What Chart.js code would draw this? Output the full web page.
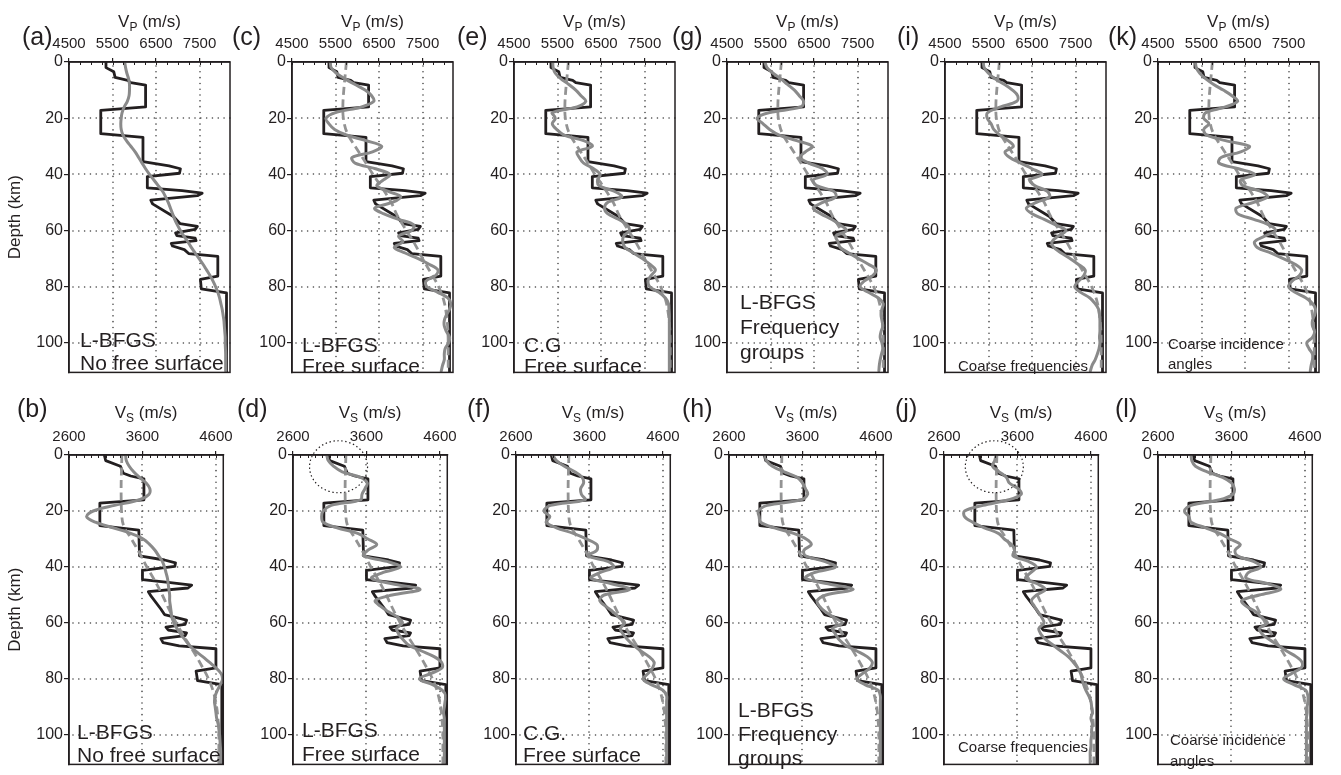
<!DOCTYPE html>
<html><head><meta charset="utf-8">
<script src="https://cdn.jsdelivr.net/npm/chart.js@4.4.1/dist/chart.umd.min.js"></script>
<style>
html,body{margin:0;padding:0;background:#fff;width:1341px;height:775px;overflow:hidden;position:relative}
canvas{position:absolute}
</style></head><body>
<script>
// ---------------- DATA ----------------
const depthGrid = [0,2,4,6,8,10,12,14,16,18,20,22,24,26,28,30,32,34,36,38,40,42,44,46,48,50,52,54,56,58,60,62,64,66,68,70,72,74,76,78,80,82,84,86,88,90,92,94,96,98,100,102,104,106,108,110];

const trueVpDepth = [0,2,3.5,5.5,6.5,7.3,8.2,16,17.2,25.5,26.8,35.5,37,38,39.6,40.8,44.8,45.8,46.7,47.6,49.2,50.5,55,57.5,58.5,59.6,60.8,61.8,62.7,63.6,64.6,65.5,66.8,68.2,69.2,76.2,77.4,80.8,82.2,110.5];
const trueVp      = [5350,5350,5530,5560,5850,5920,6260,6260,5230,5230,6200,6200,6800,7060,7040,6300,6300,7100,7560,7450,6380,6420,6900,7050,7450,7400,6950,6980,7400,7420,6850,6880,7150,7250,7920,7920,7520,7540,8120,8120];

const trueVsDepth = [0,2,4,6.5,7.5,8.5,16,17.2,25.2,26.8,36,37.5,38.5,39.8,41.2,44.5,45.5,46.5,47.5,48.8,50.5,55,57,58,59,60.5,61.5,62.5,63.5,64.5,65.6,67,68.2,69.2,76,77.2,80.6,82,110.5];
const trueVs      = [3080,3100,3300,3340,3440,3620,3620,3020,3020,3550,3560,3900,4050,4040,3600,3600,3950,4270,4220,3680,3720,3850,3900,4050,4200,4180,3920,3950,4200,4180,3850,3880,4100,4600,4600,4330,4350,4680,4680];

const initDepth = [0,5,10,15,20,25,30,35,40,45,50,55,60,65,70,75,80,85,90,95,100,105,110.5];
const initVp    = [5750,5720,5690,5670,5680,5760,5950,6160,6360,6580,6780,6930,7130,7330,7500,7690,7870,7990,8050,8080,8090,8090,8090];
const initVs    = [3320,3315,3310,3310,3315,3340,3450,3560,3660,3770,3870,3960,4060,4170,4290,4400,4500,4570,4610,4630,4640,4640,4640];

const vpLbfgsNoFree = [5780,5800,5830,5870,5890,5890,5880,5840,5770,5720,5700,5690,5700,5740,5820,5920,6020,6100,6180,6260,6350,6450,6550,6650,6720,6780,6830,6880,6930,6990,7060,7140,7230,7310,7400,7490,7580,7660,7740,7810,7870,7920,7960,7990,8020,8040,8060,8070,8080,8090,8090,8095,8100,8100,8100,8100];
const vsLbfgsNoFree = [3370,3380,3420,3480,3560,3650,3700,3690,3560,3220,2930,2840,2960,3200,3440,3610,3700,3770,3820,3870,3900,3920,3940,3950,3960,3970,3970,3980,3990,4000,4030,4070,4120,4180,4240,4320,4420,4510,4600,4670,4690,4660,4620,4590,4580,4590,4600,4610,4630,4640,4650,4655,4660,4665,4665,4665];
const vpLbfgsFree = [5380,5400,5520,5720,5950,6180,6330,6380,6100,5500,5280,5350,5480,5750,6200,6560,6350,5880,5950,6420,6750,6600,6450,6700,7000,6800,6400,6600,6950,7300,7250,6950,7050,6850,7100,7400,7650,7850,7800,7580,7600,7850,8080,8150,8120,8050,8000,8000,8050,8120,8100,8020,8000,8000,7960,7930];
const vsLbfgsFree = [3060,3080,3150,3270,3520,3610,3580,3540,3520,3120,3010,2990,3010,3200,3480,3620,3740,3620,3560,3880,4060,3820,3670,3950,4330,3950,3720,3790,3900,4030,4090,4010,4040,4100,4180,4350,4520,4620,4630,4480,4320,4500,4630,4680,4670,4660,4650,4660,4660,4660,4660,4660,4660,4660,4660,4660];
const vpCgFree = [5390,5400,5450,5580,5760,5920,6040,6150,5950,5380,5450,5380,5480,5650,6100,6300,5950,6000,6100,6330,6480,6420,6450,6800,6980,6650,6580,6650,6900,7100,7150,7020,7000,7050,7250,7450,7620,7750,7650,7580,7620,7830,7980,8050,8060,8070,8070,8070,8070,8070,8070,8070,8070,8070,8070,8070];
const vsCgFree = [3100,3150,3260,3400,3500,3520,3480,3490,3540,3070,2980,3060,3010,3150,3380,3560,3700,3700,3580,3850,3930,3740,3620,3900,4150,3800,3740,3820,3920,4000,4080,4020,4060,4120,4200,4300,4410,4480,4460,4400,4330,4440,4600,4650,4650,4650,4650,4650,4650,4650,4650,4650,4650,4650,4650,4650];
const vpFreqGroups = [5370,5420,5560,5740,5890,6050,6160,6260,6200,5480,5190,5330,5480,5700,6100,6460,6300,6180,6380,6700,6800,6480,6560,6950,7000,6700,6480,6650,6900,7100,7250,7000,7050,7100,7300,7520,7750,7930,7850,7650,7560,7750,7980,8090,8060,8040,8060,8080,8040,8020,8060,8080,8050,8020,8000,7990];
const vsFreqGroups = [3090,3110,3190,3350,3530,3600,3640,3670,3580,3120,3000,3010,3030,3220,3480,3650,3720,3620,3640,3900,4050,3760,3640,3950,4290,3920,3800,3830,3910,4030,4140,4010,4050,4100,4190,4340,4480,4550,4520,4420,4340,4450,4630,4660,4660,4660,4660,4660,4660,4660,4660,4660,4660,4660,4660,4660];
const vpCoarseFreq = [5380,5400,5500,5650,5870,6050,6170,6150,5780,5480,5470,5560,5620,5760,5950,6070,5880,5990,6240,6500,6730,6450,6560,6850,6900,6600,6370,6500,6780,7040,7280,7100,6960,7000,7170,7380,7560,7720,7690,7570,7480,7620,7830,7950,8030,8050,8060,8060,8060,8050,8060,8040,8000,7950,7880,7840];
const vsCoarseFreq = [3310,3290,3260,3350,3450,3490,3610,3650,3480,3130,2880,2880,2990,3150,3340,3420,3520,3560,3540,3750,3860,3780,3710,3870,3980,3860,3790,3830,3880,3930,3960,3890,3920,3990,4090,4190,4290,4360,4420,4460,4480,4500,4530,4570,4600,4610,4620,4600,4620,4610,4610,4600,4600,4590,4590,4590];
const vpCoarseAngles = [5360,5380,5460,5600,5780,6000,6200,6330,6050,5600,5550,5670,5550,5620,6050,6600,6400,5950,5900,6350,6730,6400,6450,6850,7020,6700,6300,6330,6700,7050,7200,6950,6720,6780,7100,7380,7650,7800,7750,7580,7500,7650,7900,8050,8120,8100,8050,8050,8100,8050,7920,7970,8050,8050,8020,8000];
const vsCoarseAngles = [3050,3060,3110,3270,3480,3600,3640,3620,3440,3050,2960,3020,3050,3250,3440,3580,3720,3650,3680,3900,4000,3830,3800,4100,4270,3980,3740,3800,3930,4010,4090,3980,4020,4120,4240,4350,4480,4560,4550,4420,4310,4450,4610,4640,4640,4630,4630,4620,4620,4620,4620,4620,4620,4620,4620,4620];

const vpTicks = [4500,5500,6500,7500];
const vsTicks = [2600,3600,4600];
const depthTicks = [0,20,40,60,80,100];

// ---------------- LAYOUT / STYLE ----------------
const FONT = '"Liberation Sans", Arial, Helvetica, sans-serif';
const INK = '#231f20';
const GRAY = '#8a8a8a';
const AXIS_W = 69, PLOT_W = 161, RIGHT_PAD = 8, BOTTOM_PAD = 3;
const ROW_TOP = [0, 385];
const PLOT_TOP = [62, 455];
const PLOT_H = [318, 317];
const PLOT_LEFT = [[69,292,514,727,945,1158],[69,293,516,729,944,1158]];
const DEPTH_MAX = 110.5;
const RANGE = {P:[4500,8200], S:[2600,4700]};

const panels = [
  {tag:'(a)', row:0, col:0, q:'P', inv:vpLbfgsNoFree, init:false, lx:22,  text:['L-BFGS','No free surface'], fs:21, lh:23, tx:80,  ty:364},
  {tag:'(c)', row:0, col:1, q:'P', inv:vpLbfgsFree,   init:true,  lx:232, text:['L-BFGS','Free surface'], fs:21, lh:21, tx:302, ty:367},
  {tag:'(e)', row:0, col:2, q:'P', inv:vpCgFree,      init:true,  lx:457, text:['C.G','Free surface'], fs:21, lh:21, tx:524, ty:367},
  {tag:'(g)', row:0, col:3, q:'P', inv:vpFreqGroups,  init:true,  lx:672, text:['L-BFGS','Frequency','groups'], fs:21, lh:25, tx:740, ty:353},
  {tag:'(i)', row:0, col:4, q:'P', inv:vpCoarseFreq,  init:true,  lx:897, text:['Coarse frequencies'], fs:15, lh:20, tx:958, ty:367},
  {tag:'(k)', row:0, col:5, q:'P', inv:vpCoarseAngles,init:true,  lx:1108,text:['Coarse incidence','angles'], fs:15, lh:20, tx:1168, ty:365},
  {tag:'(b)', row:1, col:0, q:'S', inv:vsLbfgsNoFree, init:true,  lx:17,  text:['L-BFGS','No free surface'], fs:21, lh:23, tx:77,  ty:756},
  {tag:'(d)', row:1, col:1, q:'S', inv:vsLbfgsFree,   init:true,  lx:237, text:['L-BFGS','Free surface'], fs:21, lh:24, tx:302, ty:755, circle:{x:3220, y:4.2, rx:29, ry:26}},
  {tag:'(f)', row:1, col:2, q:'S', inv:vsCgFree,      init:true,  lx:467, text:['C.G.','Free surface'], fs:21, lh:22, tx:523, ty:756},
  {tag:'(h)', row:1, col:3, q:'S', inv:vsFreqGroups,  init:true,  lx:682, text:['L-BFGS','Frequency','groups'], fs:21, lh:24, tx:738, ty:759},
  {tag:'(j)', row:1, col:4, q:'S', inv:vsCoarseFreq,  init:true,  lx:895, text:['Coarse frequencies'], fs:15, lh:20, tx:958, ty:748, circle:{x:3285, y:4.2, rx:29, ry:26}},
  {tag:'(l)', row:1, col:5, q:'S', inv:vsCoarseAngles,init:true,  lx:1115,text:['Coarse incidence','angles'], fs:15, lh:21, tx:1170, ty:762},
];

const decor = {
  id: 'decor',
  beforeDatasetsDraw(chart, args, o) {
    const {ctx, chartArea: a, scales: {x, y}} = chart;
    ctx.save();
    ctx.strokeStyle = '#444';
    ctx.lineWidth = 1.6;
    ctx.lineCap = 'round';
    ctx.setLineDash([0.01, 5.8]);
    o.xGrid.forEach(v => {
      const px = Math.round(x.getPixelForValue(v));
      ctx.beginPath(); ctx.moveTo(px, a.top + 4); ctx.lineTo(px, a.bottom); ctx.stroke();
    });
    o.yGrid.forEach(v => {
      const py = Math.round(y.getPixelForValue(v));
      ctx.beginPath(); ctx.moveTo(a.left + 4, py); ctx.lineTo(a.right, py); ctx.stroke();
    });
    ctx.restore();
  },
  afterDatasetsDraw(chart, args, o) {
    const {ctx, chartArea: a, scales: {x, y}} = chart;
    ctx.save();
    ctx.strokeStyle = INK; ctx.lineWidth = 1;
    for (let v = o.minorStart; v < o.xMax; v += o.minorStep) {
      const px = Math.round(x.getPixelForValue(v)) + 0.5;
      ctx.beginPath(); ctx.moveTo(px, a.top); ctx.lineTo(px, a.top + 3); ctx.stroke();
    }
    ctx.lineWidth = 1.5; ctx.strokeStyle = INK;
    ctx.strokeRect(a.left, a.top, a.width, a.height);
    if (o.circle) {
      ctx.setLineDash([1.4, 2.6]); ctx.lineWidth = 1.2;
      ctx.beginPath();
      ctx.ellipse(x.getPixelForValue(o.circle.x), y.getPixelForValue(o.circle.y), o.circle.rx, o.circle.ry, 0, 0, Math.PI*2);
      ctx.stroke(); ctx.setLineDash([]);
    }
    ctx.fillStyle = INK; ctx.font = o.fs + 'px ' + FONT;
    ctx.textAlign = 'left'; ctx.textBaseline = 'middle';
    const n = o.text.length;
    o.text.forEach((t, i) => ctx.fillText(t, o.tx, o.ty - (n - 1 - i) * o.lh));
    ctx.restore();
  },
  afterDraw(chart, args, o) {
    const {ctx, chartArea: a} = chart;
    ctx.save();
    ctx.fillStyle = INK; ctx.textBaseline = 'alphabetic'; ctx.textAlign = 'left';
    const big = '17px ' + FONT, small = '12px ' + FONT;
    ctx.font = big; const w1 = ctx.measureText('V').width; const w3 = ctx.measureText(' (m/s)').width;
    ctx.font = small; const w2 = ctx.measureText(o.sub).width;
    let x0 = (a.left + a.right) / 2 - (w1 + w2 + w3) / 2;
    const by = a.top - o.titleGap;
    ctx.font = big; ctx.fillText('V', x0, by);
    ctx.font = small; ctx.fillText(o.sub, x0 + w1, by + 4);
    ctx.font = big; ctx.fillText(' (m/s)', x0 + w1 + w2, by);
    ctx.font = '25px ' + FONT;
    ctx.fillText(o.tag, o.lx, o.ly);
    if (o.depthLabel) {
      ctx.translate(15, (a.top + a.bottom) / 2);
      ctx.rotate(-Math.PI / 2);
      ctx.textAlign = 'center'; ctx.textBaseline = 'middle';
      ctx.font = '17px ' + FONT;
      ctx.fillText('Depth (km)', 0, 0);
    }
    ctx.restore();
  }
};

function pts(vals, depths) { return vals.map((v, i) => ({x: v, y: depths[i]})); }

panels.forEach(p => {
  const left = PLOT_LEFT[p.row][p.col];
  const top = PLOT_TOP[p.row];
  const cvLeft = left - AXIS_W, cvTop = ROW_TOP[p.row];
  const W = AXIS_W + PLOT_W + RIGHT_PAD;
  const H = (top - cvTop) + PLOT_H[p.row] + BOTTOM_PAD;
  const cv = document.createElement('canvas');
  cv.width = W; cv.height = H;
  cv.style.left = cvLeft + 'px'; cv.style.top = cvTop + 'px';
  cv.style.width = W + 'px'; cv.style.height = H + 'px';
  document.body.appendChild(cv);

  const isP = p.q === 'P';
  const trueVals = isP ? trueVp : trueVs, trueDep = isP ? trueVpDepth : trueVsDepth;
  const initVals = isP ? initVp : initVs;
  const [xmin, xmax] = RANGE[p.q];
  const xt = isP ? vpTicks : vsTicks;

  const datasets = [
    {data: pts(p.inv, depthGrid), borderColor: GRAY, borderWidth: 3, tension: 0.35, pointRadius: 0, showLine: true, borderJoinStyle: 'round', borderCapStyle: 'round'},
  ];
  if (p.init) datasets.push({data: pts(initVals, initDepth), borderColor: '#939393', borderWidth: 2.8, borderDash: [8, 4.5], tension: 0.35, pointRadius: 0, showLine: true});
  datasets.push({data: pts(trueVals, trueDep), borderColor: INK, borderWidth: 2.8, tension: 0, pointRadius: 0, showLine: true, borderJoinStyle: 'round'});

  new Chart(cv, {
    type: 'scatter',
    data: {datasets},
    options: {
      responsive: false, animation: false, devicePixelRatio: 1, events: [],
      layout: {padding: {left: 0, top: 0, right: RIGHT_PAD, bottom: BOTTOM_PAD}},
      plugins: {
        legend: {display: false}, tooltip: {enabled: false},
        decor: {
          xGrid: xt.slice(1), yGrid: depthTicks.slice(1),
          minorStart: xmin, minorStep: isP ? 250 : 100, xMax: xmax,
          circle: p.circle || null,
          text: p.text, fs: p.fs, lh: p.lh, tx: p.tx - cvLeft, ty: p.ty - cvTop,
          sub: p.q, tag: p.tag, lx: p.lx - cvLeft, ly: p.row === 0 ? 45 : 417 - cvTop,
          titleGap: p.row === 0 ? 35 : 37,
          depthLabel: p.col === 0
        }
      },
      scales: {
        x: {
          type: 'linear', position: 'top', min: xmin, max: xmax,
          afterBuildTicks: s => { s.ticks = xt.map(v => ({value: v})); },
          afterFit: s => { s.height = top - cvTop; },
          ticks: {font: {family: FONT, size: 15}, color: INK, padding: 5, maxRotation: 0, autoSkip: false, callback: v => String(v)},
          grid: {display: true, drawOnChartArea: false, drawTicks: true, tickLength: 4, color: INK, lineWidth: 1.2},
          border: {display: true, color: INK, width: 1.5}
        },
        y: {
          type: 'linear', reverse: true, min: 0, max: DEPTH_MAX,
          afterBuildTicks: s => { s.ticks = depthTicks.map(v => ({value: v})); },
          afterFit: s => { s.width = AXIS_W; },
          ticks: {font: {family: FONT, size: 16}, color: INK, padding: 1, autoSkip: false, callback: v => String(v)},
          grid: {display: true, drawOnChartArea: false, drawTicks: true, tickLength: 5, color: INK, lineWidth: 1.2},
          border: {display: true, color: INK, width: 1.5}
        }
      }
    },
    plugins: [decor]
  });
});
</script>
</body></html>
